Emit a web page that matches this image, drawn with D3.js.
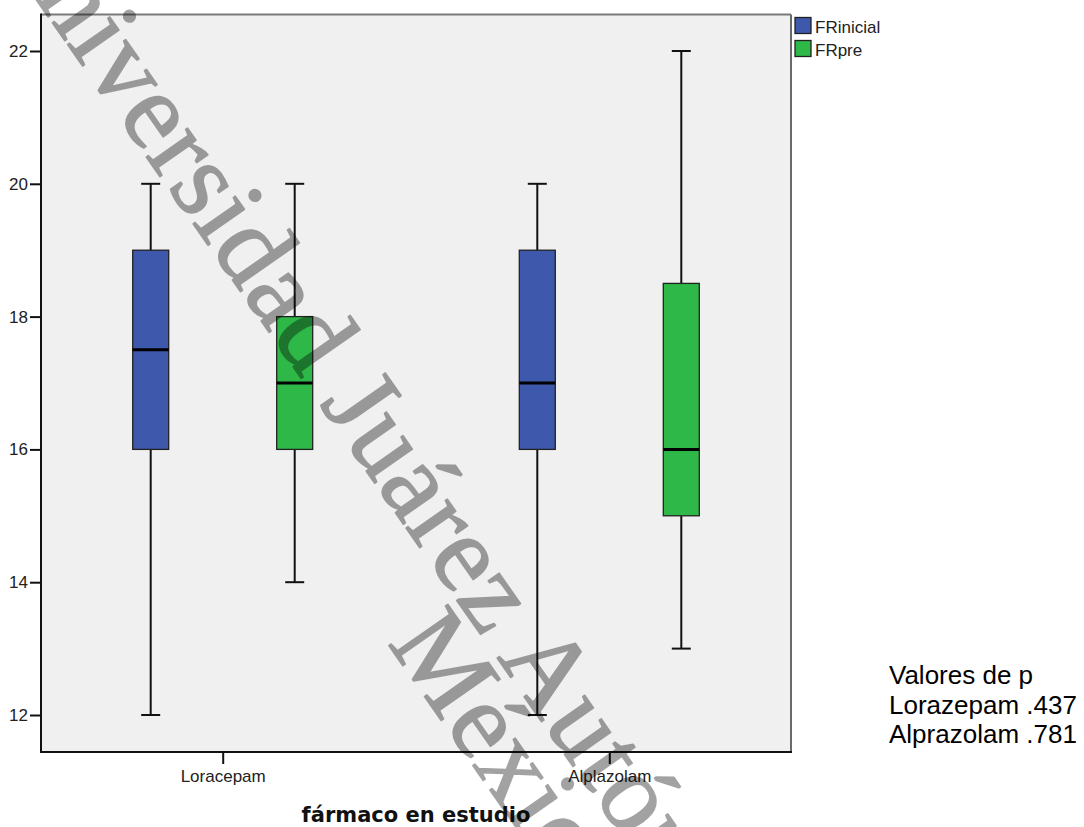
<!DOCTYPE html>
<html><head><meta charset="utf-8">
<script src="https://cdn.jsdelivr.net/npm/d3@7"></script>
<style>body{margin:0;background:#fff}</style>
</head><body>
<svg id="c" width="1084" height="827"></svg>
<script>
// ---- data ----
const categories = ["Loracepam", "Alplazolam"];
const series = ["FRinicial", "FRpre"];
const seriesColors = ["#3e58ac", "#2eb848"];
// five-number summaries [min, q1, median, q3, max], one per category
const frInicial = [[12, 16, 17.5, 19, 20], [12, 16, 17, 19, 20]];
const frPre     = [[14, 16, 17, 18, 20],   [13, 15, 16, 18.5, 22]];
const yTicks = [12, 14, 16, 18, 20, 22];
const xTitle = "fármaco en estudio";
const pTitle = "Valores de p";
const pLines = ["Lorazepam .437", "Alprazolam .781"];
const watermark = ["Universidad Juárez Autónoma de Tabasco", "México"];

// ---- layout ----
const svg = d3.select("#c");
const L = 41, R = 791, T = 14.5, B = 752;
const sans = "Arial, 'Liberation Sans', sans-serif";

const x = d3.scalePoint().domain(categories).range([L, R]).padding(0.47);
const xs = d3.scalePoint().domain(series).range([-72, 72]);
const y = d3.scaleLinear().domain([12, 22]).range([715, 51]);
const boxW = 36, capW = 19;

svg.append("rect").attr("width", 1084).attr("height", 827).attr("fill", "#fff");
svg.append("rect").attr("x", L).attr("y", T).attr("width", R - L).attr("height", B - T)
  .attr("fill", "#f0f0f0");

// boxes
const rows = [];
categories.forEach((c, i) => {
  rows.push({cat: c, ser: series[0], v: frInicial[i], color: seriesColors[0]});
  rows.push({cat: c, ser: series[1], v: frPre[i], color: seriesColors[1]});
});
const g = svg.append("g");
rows.forEach(d => {
  const cx = x(d.cat) + xs(d.ser);
  const [mn, q1, md, q3, mx] = d.v;
  const gg = g.append("g");
  gg.append("line").attr("x1", cx).attr("x2", cx).attr("y1", y(mx)).attr("y2", y(q3))
    .attr("stroke", "#111").attr("stroke-width", 2);
  gg.append("line").attr("x1", cx).attr("x2", cx).attr("y1", y(q1)).attr("y2", y(mn))
    .attr("stroke", "#111").attr("stroke-width", 2);
  [mn, mx].forEach(v => gg.append("line").attr("x1", cx - capW / 2).attr("x2", cx + capW / 2)
    .attr("y1", y(v)).attr("y2", y(v)).attr("stroke", "#111").attr("stroke-width", 2));
  gg.append("rect").attr("x", cx - boxW / 2).attr("width", boxW)
    .attr("y", y(q3)).attr("height", y(q1) - y(q3))
    .attr("fill", d.color).attr("stroke", "#222").attr("stroke-width", 1.3);
  gg.append("line").attr("x1", cx - boxW / 2).attr("x2", cx + boxW / 2)
    .attr("y1", y(md)).attr("y2", y(md)).attr("stroke", "#000").attr("stroke-width", 3);
});

// frame
svg.append("line").attr("x1", L).attr("x2", R).attr("y1", T).attr("y2", T).attr("stroke", "#7a7a7a").attr("stroke-width", 2);
svg.append("line").attr("x1", R).attr("x2", R).attr("y1", T).attr("y2", B).attr("stroke", "#6a6a6a").attr("stroke-width", 2);
svg.append("line").attr("x1", L).attr("x2", L).attr("y1", T - 1).attr("y2", B + 1).attr("stroke", "#111").attr("stroke-width", 2);
svg.append("line").attr("x1", L).attr("x2", R + 1).attr("y1", B).attr("y2", B).attr("stroke", "#111").attr("stroke-width", 2);

// y axis
const ya = svg.append("g").attr("transform", `translate(${L},0)`)
  .call(d3.axisLeft(y).tickValues(yTicks).tickSize(11).tickPadding(2));
ya.select(".domain").remove();
ya.selectAll(".tick line").attr("stroke", "#111").attr("stroke-width", 2);
ya.selectAll(".tick text").attr("font-family", sans).attr("font-size", 17).attr("fill", "#222");

// x axis
const xa = svg.append("g").attr("transform", `translate(0,${B})`)
  .call(d3.axisBottom(x).tickSize(12).tickPadding(6));
xa.select(".domain").remove();
xa.selectAll(".tick line").attr("stroke", "#111").attr("stroke-width", 2);
xa.selectAll(".tick text").attr("font-family", sans).attr("font-size", 17).attr("fill", "#222");

svg.append("text").attr("x", (L + R) / 2).attr("y", 822).attr("text-anchor", "middle")
  .attr("font-family", "'DejaVu Sans', Verdana, sans-serif").attr("font-weight", "bold")
  .attr("font-size", 21).attr("fill", "#111").text(xTitle);

// legend
const lg = svg.append("g");
series.forEach((s, i) => {
  lg.append("rect").attr("x", 795).attr("y", 17.5 + i * 23).attr("width", 16).attr("height", 16)
    .attr("fill", seriesColors[i]).attr("stroke", "#222").attr("stroke-width", 1.3);
  lg.append("text").attr("x", 815).attr("y", 33 + i * 23).attr("font-family", sans)
    .attr("font-size", 17).attr("fill", "#222").text(s);
});

// p-values annotation
const pt = svg.append("text").attr("font-family", sans).attr("font-size", 26).attr("fill", "#000");
[pTitle, ...pLines].forEach((t, i) => pt.append("tspan").attr("x", 889).attr("y", 684 + i * 29.5).text(t));

// watermark (semi-transparent, drawn on top)
const wm = svg.append("g").attr("opacity", 0.36).attr("fill", "#000")
  .attr("stroke", "#000").attr("stroke-width", 1.6).attr("stroke-linejoin", "round")
  .attr("font-family", "'Liberation Serif', 'Times New Roman', serif").attr("font-size", 110)
  .attr("letter-spacing", 1);
wm.append("text").attr("transform", "translate(-12,-69) rotate(55)").text(watermark[0]);
wm.append("text").attr("transform", "translate(387,643) rotate(55)").text(watermark[1]);
</script>
</body></html>
